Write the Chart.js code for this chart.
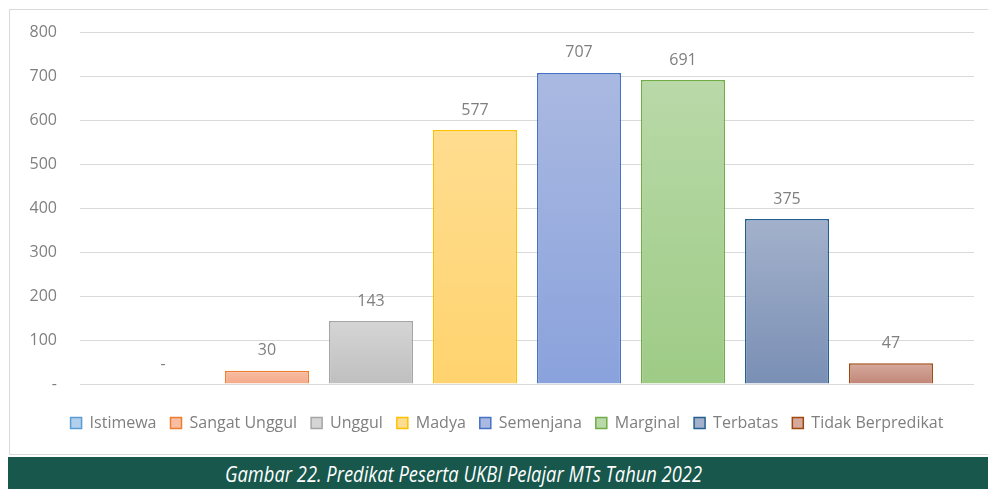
<!DOCTYPE html>
<html><head><meta charset="utf-8">
<script src="https://cdn.jsdelivr.net/npm/chart.js@4/dist/chart.umd.min.js"></script>
<style>
html,body{margin:0;padding:0;background:#fff;width:988px;height:489px;overflow:hidden;position:relative}
#frame{position:absolute;left:9px;top:9px;width:1000px;height:444px;border:1px solid #d9d9d9;}
#wrap{position:absolute;left:10px;top:10px;width:978px;height:444px}
#banner{position:absolute;left:8px;top:457px;width:1000px;height:40px;background:#18574c;}
#captext{position:absolute;left:217px;top:7px;white-space:nowrap;color:#fff;font-family:"Open Sans",sans-serif;font-style:italic;font-size:21px;line-height:21px;transform-origin:0 0;}
</style></head>
<body>
<div id="frame"></div>
<div id="wrap"><canvas id="c"></canvas></div>
<div id="banner"><span id="captext">Gambar 22. Predikat Peserta UKBI Pelajar MTs Tahun 2022</span></div>
<script>
const categories = ['2022'];
const seriesNames = ['Istimewa','Sangat Unggul','Unggul','Madya','Semenjana','Marginal','Terbatas','Tidak Berpredikat'];
const seriesValues = [0, 30, 143, 577, 707, 691, 375, 47];
const yTickValues = [0, 100, 200, 300, 400, 500, 600, 700, 800];
const borderColors = ['#5b9bd5','#ed7d31','#a5a5a5','#ffc000','#4472c4','#70ad47','#255e91','#9e480e'];
const topColors = ['#b2cfec','#f8bda3','#d5d5d5','#ffdd90','#aab9e1','#b9d9a8','#a3b1cb','#d6a99d'];
const bottomColors = ['#9cc2e6','#f4a988','#bfbfbf','#ffd36e','#8aa2dc','#9ecb86','#7a8fb5','#c08677'];

function makeFill(i){
  return (ctx) => {
    const chart = ctx.chart;
    if (!chart.chartArea || !chart.scales.y) return topColors[i];
    const y = chart.scales.y;
    const v = ctx.raw ?? 0;
    const top = y.getPixelForValue(v), bottom = y.getPixelForValue(0);
    if (bottom - top < 1) return topColors[i];
    const g = chart.ctx.createLinearGradient(0, top, 0, bottom);
    g.addColorStop(0, topColors[i]);
    g.addColorStop(1, bottomColors[i]);
    return g;
  };
}

const valueLabels = {
  id: 'valueLabels',
  afterDatasetsDraw(chart){
    const c = chart.ctx;
    c.save();
    c.font = '16px "Open Sans"';
    c.fillStyle = '#7f7f7f';
    c.textAlign = 'center';
    c.textBaseline = 'middle';
    chart.data.datasets.forEach((ds, i) => {
      const meta = chart.getDatasetMeta(i);
      meta.data.forEach((bar, j) => {
        const v = ds.data[j];
        c.fillText(v === 0 ? '-' : String(v), bar.x, bar.y - 20);
      });
    });
    c.restore();
  }
};

const legendShift = {
  id: 'legendShift',
  afterLayout(chart){
    if (chart.legend) { chart.legend.left += 15; chart.legend.right += 15; }
  }
};

function build(){
  const cap = document.getElementById('captext');
  const w = cap.getBoundingClientRect().width;
  cap.style.transform = 'scaleX(' + (477 / w) + ')';

  const datasets = seriesNames.map((name, i) => ({
    label: name,
    data: [seriesValues[i]],
    backgroundColor: makeFill(i),
    borderColor: borderColors[i],
    borderWidth: (ctx) => (ctx.raw === 0 ? 0 : 1.5),
    categoryPercentage: 0.9306,
    barPercentage: 0.8077
  }));

  new Chart(document.getElementById('c'), {
    type: 'bar',
    data: { labels: categories, datasets },
    plugins: [valueLabels, legendShift],
    options: {
      responsive: true,
      maintainAspectRatio: false,
      animation: false,
      layout: { padding: { top: 22, right: 14, bottom: 13, left: 0 } },
      plugins: {
        tooltip: { enabled: false },
        legend: {
          position: 'bottom',
          labels: {
            boxWidth: 11, boxHeight: 11, padding: 14,
            color: '#7f7f7f',
            font: { family: '"Open Sans"', size: 16 },
            generateLabels: (chart) => chart.data.datasets.map((ds, i) => ({
              text: ds.label,
              fillStyle: topColors[i],
              strokeStyle: borderColors[i],
              lineWidth: 1.5,
              fontColor: '#7f7f7f',
              hidden: false,
              datasetIndex: i
            }))
          }
        }
      },
      scales: {
        x: {
          grid: { display: false },
          border: { display: false },
          ticks: { display: false },
          afterFit: (s) => { s.height = 17; }
        },
        y: {
          min: 0, max: 800,
          afterFit: (s) => { s.width = 70; s.paddingTop = 0; s.paddingBottom = 0; },
          afterBuildTicks: (s) => { s.ticks = yTickValues.map(v => ({ value: v })); },
          grid: { color: '#d9d9d9', lineWidth: 1, drawTicks: false },
          border: { display: false },
          ticks: {
            padding: 23,
            color: '#7f7f7f',
            font: { family: '"Open Sans"', size: 16 },
            callback: (v) => (v === 0 ? '-' : v)
          }
        }
      }
    }
  });
}

Promise.all([
  document.fonts.load('16px "Open Sans"'),
  document.fonts.load('italic 21px "Open Sans"')
]).then(build, build);
</script>
</body></html>
